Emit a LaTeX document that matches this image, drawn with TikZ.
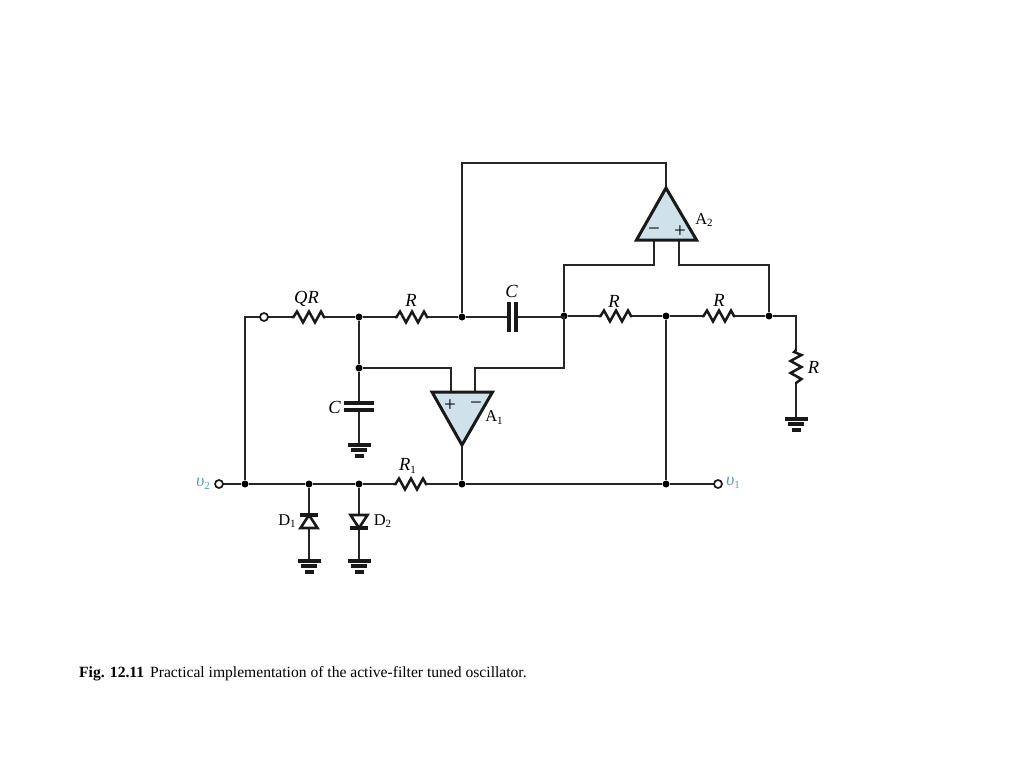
\documentclass[tikz,border=0pt]{standalone}
\usepackage{fontspec}
\setmainfont{Liberation Serif}
\usetikzlibrary{calc}
\definecolor{ampfill}{HTML}{CFE2EA}
\definecolor{portcol}{HTML}{5E9DB4}
\tikzset{
  x=1pt,y=-1pt,
  wire/.style={line width=1.6pt,draw=black!85},
  heavy/.style={line width=3.1pt,line join=miter,draw=black!90},
  dheavy/.style={line width=2.6pt,line join=miter,draw=black!90},
  amp/.style={line width=3pt,line join=miter,draw=black!90,fill=ampfill},
  zig/.style={line width=2.5pt,line join=miter,line cap=round,draw=black!90},
  dot/.style={circle,fill=black,inner sep=0pt,minimum size=7pt},
  port/.style={circle,draw=black!90,fill=white,line width=1.7pt,inner sep=0pt,minimum size=8pt},
  lbl/.style={font=\fontsize{18.5}{19}\selectfont\itshape,inner sep=0pt},
  rom/.style={font=\fontsize{16.5}{17}\selectfont,inner sep=0pt},
  sgn/.style={font=\fontsize{21}{21}\selectfont,inner sep=0pt},
  vlbl/.style={font=\fontsize{18}{19}\selectfont,text=portcol,inner sep=0pt},
}
\newcommand{\sub}[1]{\raisebox{-2.5pt}{\fontsize{11}{11}\selectfont\upshape #1}}
% horizontal resistor from #1 (left) to #2 (right)
\newcommand{\hres}[2]{
  \draw[zig] (#1) -- ($(#1)+(1.5,0)$) -- ($(#1)+(5,-5.5)$) -- ($(#1)+(11,5.5)$) -- ($(#1)+(17,-5.5)$) -- ($(#1)+(23,5.5)$) -- ($(#1)+(29,-5.5)$) -- ($(#1)+(32,0)$) -- (#2);
}
% ground symbol at #1
\newcommand{\gnd}[1]{
  \draw[heavy] ($(#1)+(-11.5,0)$) -- ($(#1)+(11.5,0)$);
  \draw[heavy] ($(#1)+(-8,5)$) -- ($(#1)+(8,5)$);
  \draw[heavy] ($(#1)+(-4.5,11)$) -- ($(#1)+(4.5,11)$);
}
\begin{document}
\begin{tikzpicture}
\useasboundingbox (0,0) rectangle (1024,768);
% op-amps
\node[coordinate] (a2t) at (666,188) {};
\node[coordinate] (a2l) at (636.5,240) {};
\node[coordinate] (a2r) at (696.5,240) {};
\node[coordinate] (a2m) at (654,240) {};
\node[coordinate] (a2p) at (679,240) {};
\node[coordinate] (a1b) at (462,445) {};
\node[coordinate] (a1l) at (432,392) {};
\node[coordinate] (a1r) at (492.5,392) {};
\node[coordinate] (a1p) at (451,392) {};
\node[coordinate] (a1m) at (475,392) {};
% corner points
\node[coordinate] (cl) at (245,317) {};
\node[coordinate] (ct1) at (462,163) {};
\node[coordinate] (ct2) at (666,163) {};
\node[coordinate] (c1) at (654,265) {};
\node[coordinate] (c2) at (564,265) {};
\node[coordinate] (c3) at (679,265) {};
\node[coordinate] (c4) at (769,265) {};
\node[coordinate] (c5) at (451,368) {};
\node[coordinate] (c6) at (475,368) {};
\node[coordinate] (c7) at (564,368) {};
\node[coordinate] (c8) at (796,316) {};
% resistor ends
\node[coordinate] (rq1) at (292,317) {};
\node[coordinate] (rq2) at (325,317) {};
\node[coordinate] (r11) at (395,317) {};
\node[coordinate] (r12) at (428,317) {};
\node[coordinate] (r21) at (599,316) {};
\node[coordinate] (r22) at (632,316) {};
\node[coordinate] (r31) at (702,316) {};
\node[coordinate] (r32) at (735,316) {};
\node[coordinate] (r41) at (394,484) {};
\node[coordinate] (r42) at (427,484) {};
\node[coordinate] (rvt) at (796,350) {};
\node[coordinate] (rvb) at (796,383) {};
% capacitors
\node[coordinate] (c1a) at (509,317) {};
\node[coordinate] (c1b) at (516,317) {};
\node[coordinate] (c2a) at (359,403) {};
\node[coordinate] (c2b) at (359,410) {};
% grounds
\node[coordinate] (g1) at (359,445) {};
\node[coordinate] (g2) at (796,419) {};
\node[coordinate] (g3) at (309,561) {};
\node[coordinate] (g4) at (359,561) {};
% diodes
\node[coordinate] (d1t) at (309,515) {};
\node[coordinate] (d1b) at (309,528) {};
\node[coordinate] (d2t) at (359,515) {};
\node[coordinate] (d2b) at (359,528) {};
% junctions and ports
\node[dot] (n1) at (359,317) {};
\node[dot] (n2) at (462,317) {};
\node[dot] (n3) at (564,316) {};
\node[dot] (n4) at (666,316) {};
\node[dot] (n5) at (769,316) {};
\node[dot] (n6) at (359,368) {};
\node[dot] (b1) at (245,484) {};
\node[dot] (b2) at (309,484) {};
\node[dot] (b3) at (359,484) {};
\node[dot] (b4) at (462,484) {};
\node[dot] (b5) at (666,484) {};

% wires
\draw[wire] (264,317) coordinate (pqc) -- (cl) -- (b1);
\draw[wire] (pqc) -- (rq1);
\hres{rq1}{rq2}
\draw[wire] (rq2) -- (n1) -- (r11);
\hres{r11}{r12}
\draw[wire] (r12) -- (n2) -- (c1a);
\draw[wire] (c1b) -- (c1b -| n3) -- (n3) -- (r21);
\hres{r21}{r22}
\draw[wire] (r22) -- (n4) -- (r31);
\hres{r31}{r32}
\draw[wire] (r32) -- (n5) -- (c8) -- (rvt);
\draw[wire] (n2) -- (ct1) -- (ct2) -- (a2t);
\draw[wire] (a2m) -- (c1) -- (c2) -- (n3);
\draw[wire] (a2p) -- (c3) -- (c4) -- (n5);
\draw[wire] (n1) -- (n6) -- (c2a);
\draw[wire] (n6) -- (c5) -- (a1p);
\draw[wire] (a1m) -- (c6) -- (c7) -- (n3);
\draw[wire] (a1b) -- (b4);
\draw[wire] (n4) -- (b5);
\draw[wire] (219,484) coordinate (pv2c) -- (b1) -- (b2) -- (b3) -- (r41);
\hres{r41}{r42}
\draw[wire] (r42) -- (b4) -- (b5) -- (718,484) coordinate (pv1c);
\draw[wire] (c2b) -- (g1);
\draw[wire] (rvb) -- (g2);
\draw[wire] (b2) -- (d1t);
\draw[wire] (d1b) -- (g3);
\draw[wire] (b3) -- (d2t);
\draw[wire] (d2b) -- (g4);
% ports on top of their wires
\node[port] (pq) at (pqc) {};
\node[port] (pv2) at (pv2c) {};
\node[port] (pv1) at (pv1c) {};
% vertical resistor
\draw[zig] (rvt) -- ($(rvt)+(-2,2)$) -- ($(rvt)+(5.5,5)$) -- ($(rvt)+(-5.5,11)$) -- ($(rvt)+(5.5,17)$) -- ($(rvt)+(-5.5,23)$) -- ($(rvt)+(5.5,29)$) -- ($(rvt)+(0,33)$) -- (rvb);
% capacitor plates
\draw[heavy] ($(c1a)+(0,-15)$) -- ($(c1a)+(0,15)$);
\draw[heavy] ($(c1b)+(0,-15)$) -- ($(c1b)+(0,15)$);
\draw[heavy] ($(c2a)+(-15,0)$) -- ($(c2a)+(15,0)$);
\draw[heavy] ($(c2b)+(-15,0)$) -- ($(c2b)+(15,0)$);
% grounds
\gnd{g1}\gnd{g2}\gnd{g3}\gnd{g4}
% diodes
\draw[dheavy] (d1t) -- ($(d1b)+(-8.5,0)$) -- ($(d1b)+(8.5,0)$) -- cycle;
\draw[heavy] ($(d1t)+(-9,0)$) -- ($(d1t)+(9,0)$);
\draw[dheavy] (d2b) -- ($(d2t)+(-8.5,0)$) -- ($(d2t)+(8.5,0)$) -- cycle;
\draw[heavy] ($(d2b)+(-9,0)$) -- ($(d2b)+(9,0)$);
% op-amp bodies
\draw[amp] (a2t) -- (a2l) -- (a2r) -- cycle;
\draw[amp] (a1b) -- (a1l) -- (a1r) -- cycle;
% signs
\node[sgn] (s1) at (654,232) {\textminus};
\node[sgn] (s2) at (680,232) {+};
\node[sgn] (s3) at (450,406) {+};
\node[sgn] (s4) at (476,406) {\textminus};
% labels
\node[lbl] (tq) at (306.5,299) {QR};
\node[lbl] (t1) at (411,300) {R};
\node[lbl] (t2) at (511.5,291) {C};
\node[lbl] (t3) at (614,301) {R};
\node[lbl] (t4) at (719,300) {R};
\node[lbl] (t5) at (813.5,367) {R};
\node[lbl] (t6) at (334.5,407) {C};
\node[lbl] (t7) at (407.5,466) {R\sub{1}};
\node[rom] (t8) at (494,417.5) {A\sub{1}};
\node[rom] (t9) at (704,220) {A\sub{2}};
\node[rom] (t10) at (287,521) {D\sub{1}};
\node[rom] (t11) at (382.5,521) {D\sub{2}};
\node[vlbl] (t12) at (203,484) {\textit{υ}\sub{2}};
\node[vlbl] (t13) at (733,483) {\textit{υ}\sub{1}};
\node[anchor=base west,inner sep=0pt,font=\fontsize{15.6}{16}\selectfont] (cap) at (79,677) {\textbf{Fig. 12.11}\hspace{6pt}Practical implementation of the active-filter tuned oscillator.};
\end{tikzpicture}
\end{document}
